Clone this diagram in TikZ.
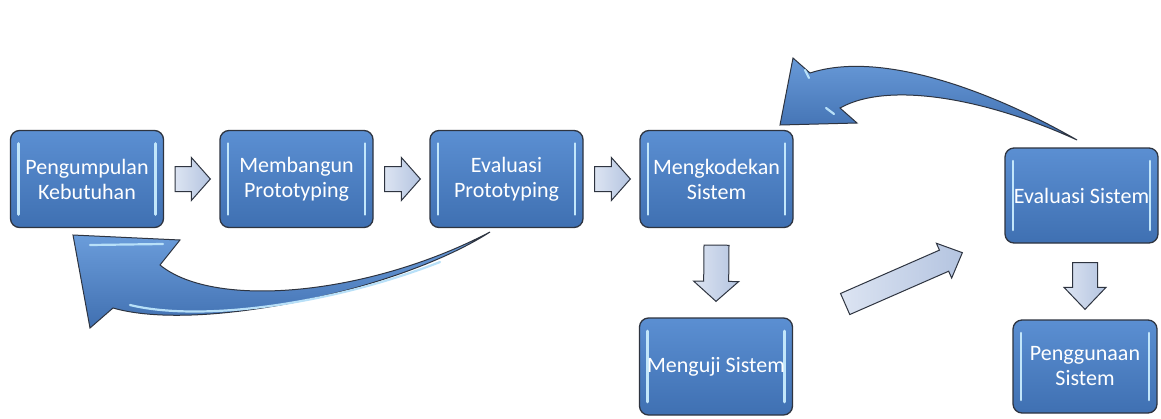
\documentclass[tikz,border=0pt]{standalone}
\usepackage{fontspec}
\setmainfont{Carlito}
\usetikzlibrary{calc}
\definecolor{boxtop}{HTML}{5B8FD2}
\definecolor{boxbot}{HTML}{3F70B2}
\definecolor{boxline}{HTML}{2E3440}
\definecolor{barcol}{HTML}{C2E6FA}
\definecolor{sarrtop}{HTML}{DCE4F2}
\definecolor{sarrbot}{HTML}{B4C4E0}
\definecolor{bigtop}{HTML}{6C9EDC}
\definecolor{bigbot}{HTML}{3E6DAE}
\definecolor{hilite}{HTML}{B8E0F8}
\tikzset{
  stage/.style={rounded corners=9pt, draw=boxline, line width=1.3pt,
    top color=boxtop, bottom color=boxbot, text=white,
    font=\fontsize{22}{25}\selectfont, align=center, inner sep=0pt,
    minimum width=153pt, minimum height=97pt,
    path picture={
      \draw[barcol, line width=2.6pt, line cap=round]
        ([xshift=8pt,yshift=-13pt]path picture bounding box.north west) --
        ([xshift=8pt,yshift=13pt]path picture bounding box.south west);
      \draw[barcol, line width=2.6pt, line cap=round]
        ([xshift=-8pt,yshift=-13pt]path picture bounding box.north east) --
        ([xshift=-8pt,yshift=13pt]path picture bounding box.south east);}},
  smallarrow/.style={draw=boxline, line width=1pt, line join=miter,
    left color=sarrtop, right color=sarrbot},
  bigarrow/.style={draw=boxline, line width=1pt, top color=bigtop, bottom color=bigbot},
  hl/.style={hilite, line width=2.2pt, line cap=round}
}
\newcommand\blockarrow[5]{%
  \coordinate (ba-A) at (#1);
  \coordinate (ba-B) at (#2);
  \coordinate (ba-C) at ($(ba-B)!#5!(ba-A)$);
  \draw[smallarrow] ($(ba-A)!#3!90:(ba-B)$) -- ($(ba-C)!#3!-90:(ba-A)$) --
    ($(ba-C)!#4!-90:(ba-A)$) -- (ba-B) -- ($(ba-C)!#4!90:(ba-A)$) --
    ($(ba-C)!#3!90:(ba-A)$) -- ($(ba-A)!#3!-90:(ba-B)$) -- cycle;
}
\begin{document}
\begin{tikzpicture}[x=1pt,y=-1pt]
\fill[white] (0,0) rectangle (1161,418);
\useasboundingbox (0,0) rectangle (1161,418);

\node[stage] (b1) at (87,179) {Pengumpulan\\Kebutuhan};
\node[stage] (b2) at (296.5,179) {Membangun\\Prototyping};
\node[stage] (b3) at (506.5,179) {Evaluasi\\Prototyping};
\node[stage] (b4) at (716.5,179) {Mengkodekan\\Sistem};
\node[stage, minimum height=95pt] (b5) at (1081.5,195.5) {Evaluasi Sistem};
\node[stage] (b6) at (716,366.5) {Menguji Sistem};
\node[stage, minimum width=144pt, minimum height=93pt] (b7) at (1085,366.5) {Penggunaan\\Sistem};

% small block arrows
\blockarrow{[xshift=11pt]b1.east}{[xshift=-9pt]b2.west}{12.5pt}{21.5pt}{19pt}
\blockarrow{[xshift=11pt]b2.east}{[xshift=-9pt]b3.west}{12.5pt}{21.5pt}{19pt}
\blockarrow{[xshift=11pt]b3.east}{[xshift=-9pt]b4.west}{12.5pt}{21.5pt}{19pt}
\blockarrow{[yshift=-17pt]b4.south}{[yshift=16pt]b6.north}{12.5pt}{22.5pt}{20pt}
\blockarrow{[yshift=-19pt]b5.south -| b7.north}{[yshift=10pt]b7.north}{12.5pt}{21pt}{22pt}
\blockarrow{[xshift=52pt,yshift=62.5pt]b6.east}{[xshift=-42pt,yshift=-9pt]b5.south west}{11.5pt}{19pt}{20pt}

% curved arrow back to Pengumpulan Kebutuhan
\draw[bigarrow] (490,232) .. controls (400,290) and (200,333) .. (113,308)
  -- (90,328) -- (73,235) -- (180,240) -- (160,265)
  .. controls (215,310) and (370,295) .. (490,232) -- cycle;
\draw[hl] (90,245) -- (163,244);
\draw[hl] (130,305) .. controls (200,322) and (330,305) .. (440,262);

% curved arrow back to Mengkodekan Sistem
\draw[bigarrow] (1077,140) .. controls (990,90) and (880,50) .. (810,73)
  -- (793,58) -- (780,125) -- (857,123) -- (840,108)
  .. controls (890,80) and (990,100) .. (1077,140) -- cycle;
\draw[hl] (805,70) -- (809,78);
\draw[hl] (826,108) -- (834,114);
\end{tikzpicture}
\end{document}
